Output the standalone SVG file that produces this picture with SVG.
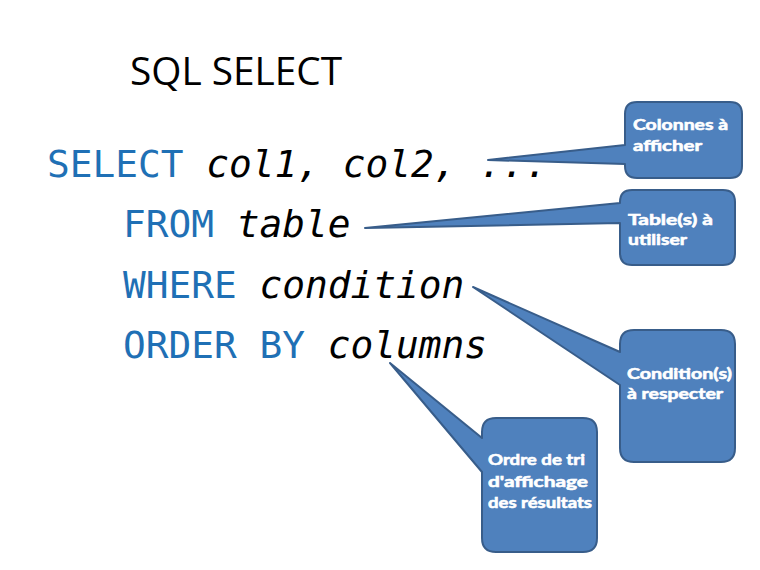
<svg xmlns="http://www.w3.org/2000/svg" width="760" height="570" viewBox="0 0 760 570">
<style>
.title{font-family:"Open Sans","Liberation Sans",sans-serif;font-size:39px;fill:#000}
.kw{font-family:"DejaVu Sans Mono","Liberation Mono",monospace;font-size:37.8px;fill:#1F70B5}
.it{font-family:"DejaVu Sans Mono","Liberation Mono",monospace;font-size:37.8px;font-style:italic;fill:#000}
.call{fill:#4F81BD;stroke:#385D8A;stroke-width:2;stroke-linejoin:round}
.ct{font-family:Lato,"Liberation Sans",sans-serif;font-weight:bold;font-size:15px;fill:#fff;stroke:#fff;stroke-width:0.6}
</style>
<rect width="760" height="570" fill="#fff"/>
<g id="title"><text class="title" x="130" y="85" textLength="212" lengthAdjust="spacingAndGlyphs">SQL SELECT</text></g>
<g id="code">
<text x="47" y="177"><tspan class="kw">SELECT </tspan><tspan class="it">col1, col2, ...</tspan></text>
<text x="123" y="237"><tspan class="kw">FROM </tspan><tspan class="it">table</tspan></text>
<text x="123" y="298"><tspan class="kw">WHERE </tspan><tspan class="it">condition</tspan></text>
<text x="123" y="358"><tspan class="kw">ORDER BY </tspan><tspan class="it">columns</tspan></text>
</g>
<g id="connectors"></g>
<g id="callout-colonnes">
<path class="call" d="M637,102 H730 Q742,102 742,114 V166 Q742,178 730,178 H637 Q625,178 625,166 V164 L488,160 L625,145 V114 Q625,102 637,102 Z"/>
<text class="ct" x="633" y="130" textLength="95" lengthAdjust="spacingAndGlyphs">Colonnes à</text>
<text class="ct" x="633" y="151" textLength="69" lengthAdjust="spacingAndGlyphs">afficher</text>
</g>
<g id="callout-table">
<path class="call" d="M632,190 H723 Q735,190 735,202 V253 Q735,265 723,265 H632 Q620,265 620,253 V223 L365,228 L620,203 V202 Q620,190 632,190 Z"/>
<text class="ct" x="628" y="225" textLength="85" lengthAdjust="spacingAndGlyphs">Table(s) à</text>
<text class="ct" x="628" y="245" textLength="59" lengthAdjust="spacingAndGlyphs">utiliser</text>
</g>
<g id="callout-condition">
<path class="call" d="M634,330 H721 Q735,330 735,344 V448 Q735,462 721,462 H634 Q620,462 620,448 V385 L473,287 L620,352 V344 Q620,330 634,330 Z"/>
<text class="ct" x="627" y="379" textLength="105" lengthAdjust="spacingAndGlyphs">Condition(s)</text>
<text class="ct" x="627" y="399" textLength="96" lengthAdjust="spacingAndGlyphs">à respecter</text>
</g>
<g id="callout-ordre">
<path class="call" d="M496,418 H583 Q597,418 597,432 V538 Q597,552 583,552 H496 Q482,552 482,538 V472 L390,363 L482,438 V432 Q482,418 496,418 Z"/>
<text class="ct" x="488" y="465" textLength="97" lengthAdjust="spacingAndGlyphs">Ordre de tri</text>
<text class="ct" x="488" y="487" textLength="100" lengthAdjust="spacingAndGlyphs">d'affichage</text>
<text class="ct" x="488" y="508" textLength="104" lengthAdjust="spacingAndGlyphs">des résultats</text>
</g>
</svg>
